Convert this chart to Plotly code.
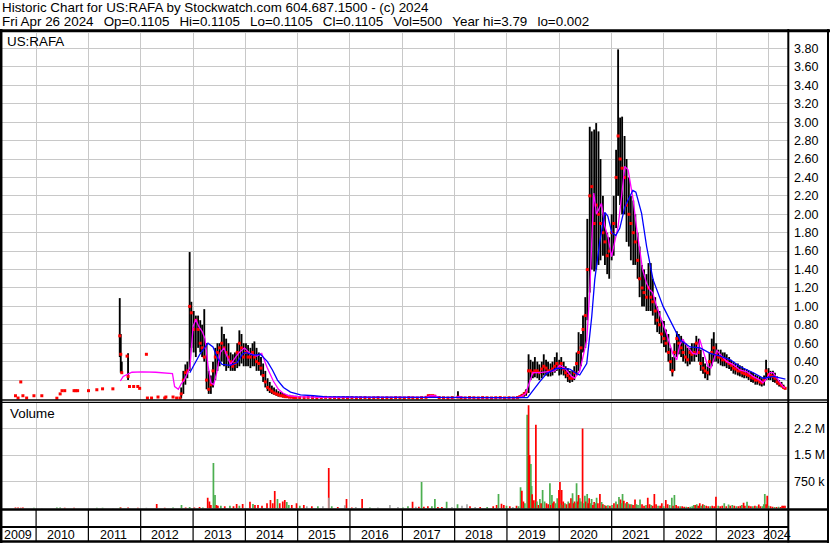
import plotly.graph_objects as go
import pandas as pd

# ---------------- price bars (date, high, low, close) ----------------
bar_dates = [
 "2009-08-10","2009-08-28","2009-09-16","2009-10-01","2009-10-27","2009-12-17",
 "2010-02-10","2010-05-26","2010-06-18","2010-07-01","2010-07-20","2010-09-23","2010-10-05","2010-10-18",
 "2011-01-02","2011-03-01","2011-04-10","2011-06-21","2011-08-08","2011-08-15","2011-08-22","2011-09-28",
 "2011-10-05","2011-10-15","2011-11-13","2011-12-12","2011-12-25",
 "2012-02-10","2012-02-17","2012-03-17","2012-05-01","2012-06-17","2012-06-25","2012-08-14","2012-09-08","2012-10-01",
 "2012-10-10","2012-10-25","2012-11-08","2012-11-22","2012-12-08","2012-12-20",
 "2013-01-05","2013-01-20","2013-02-05","2013-02-20","2013-03-05","2013-03-20","2013-04-05","2013-04-20",
 "2013-05-05","2013-05-20","2013-06-05","2013-06-20","2013-07-05","2013-07-20","2013-08-05","2013-08-20",
 "2013-09-05","2013-09-20","2013-10-05","2013-10-20","2013-11-05","2013-11-20","2013-12-05","2013-12-20",
 "2014-01-05","2014-01-20","2014-02-05","2014-02-20","2014-03-05","2014-03-20","2014-04-05","2014-04-20",
 "2014-05-05","2014-05-20","2014-06-05","2014-06-20","2014-07-05","2014-07-20","2014-08-05","2014-08-20",
 "2014-09-05","2014-09-20","2014-10-05","2014-10-20","2014-11-05","2014-11-20","2014-12-05","2014-12-20",
 "2015-01-15","2015-02-15","2015-03-15","2015-04-15","2015-05-15","2015-06-15","2015-07-15","2015-08-15",
 "2015-09-15","2015-10-15","2015-11-15","2015-12-15",
 "2016-01-15","2016-02-15","2016-03-15","2016-04-15","2016-05-15","2016-06-15","2016-07-15","2016-08-15",
 "2016-09-15","2016-10-15","2016-11-15","2016-12-15",
 "2017-01-15","2017-02-15","2017-03-15","2017-04-15","2017-05-15","2017-06-15","2017-07-01","2017-07-15",
 "2017-08-01","2017-08-15","2017-09-15","2017-10-15","2017-11-15","2017-12-15",
 "2018-01-24","2018-02-15","2018-03-15","2018-04-15","2018-05-15","2018-06-15","2018-07-15","2018-08-15",
 "2018-09-15","2018-10-15","2018-11-15","2018-12-15",
 "2019-01-15","2019-02-15","2019-03-15","2019-04-01","2019-04-15","2019-05-01","2019-05-15","2019-06-01",
 "2019-06-15","2019-07-01","2019-07-15","2019-08-01","2019-08-15","2019-09-01","2019-09-15","2019-10-01",
 "2019-10-15","2019-11-01","2019-11-15","2019-12-01","2019-12-15",
 "2020-01-01","2020-01-15","2020-02-01","2020-02-15","2020-03-01","2020-03-15","2020-04-01","2020-04-15",
 "2020-05-01","2020-05-15","2020-06-01","2020-06-15","2020-07-01","2020-07-15","2020-08-01","2020-08-15",
 "2020-09-01","2020-09-15","2020-10-01","2020-10-15","2020-11-01","2020-11-15","2020-12-01","2020-12-15",
 "2021-01-01","2021-01-15","2021-02-01","2021-02-15","2021-03-01","2021-03-15","2021-04-01","2021-04-15",
 "2021-05-01","2021-05-15","2021-06-01","2021-06-15","2021-07-01","2021-07-15","2021-08-01","2021-08-15",
 "2021-09-01","2021-09-15","2021-10-01","2021-10-15","2021-11-01","2021-11-15","2021-12-01","2021-12-15",
 "2022-01-01","2022-01-15","2022-02-01","2022-02-15","2022-03-01","2022-03-15","2022-04-01","2022-04-15",
 "2022-05-01","2022-05-15","2022-06-01","2022-06-15","2022-07-01","2022-07-15","2022-08-01","2022-08-15",
 "2022-09-01","2022-09-15","2022-10-01","2022-10-15","2022-11-01","2022-11-15","2022-12-01","2022-12-15",
 "2023-01-01","2023-01-15","2023-02-01","2023-02-15","2023-03-01","2023-03-15","2023-04-01","2023-04-15",
 "2023-05-01","2023-05-15","2023-06-01","2023-06-15","2023-07-01","2023-07-15","2023-08-01","2023-08-15",
 "2023-09-01","2023-09-15","2023-10-01","2023-10-15","2023-11-01","2023-11-15","2023-12-01","2023-12-15",
 "2024-01-01","2024-01-15","2024-02-01","2024-02-15","2024-03-01","2024-03-15","2024-04-01","2024-04-15",
 "2024-04-26",
]
bar_high = [
 0.03,0.005,0.18,0.03,0.005,0.03,
 0.03,0.003,0.05,0.085,0.085,0.085,0.085,0.085,
 0.085,0.095,0.105,0.105,1.09,0.70,0.40,0.46,
 0.49,0.13,0.13,0.13,0.11,
 0.48,0.005,0.005,0.016,0.005,0.016,0.016,0.005,0.005,
 0.12,0.30,0.37,0.40,1.59,1.05,
 0.95,0.90,0.90,0.85,0.80,0.97,0.60,0.30,
 0.25,0.40,0.55,0.60,0.60,0.78,0.70,0.65,
 0.60,0.50,0.48,0.50,0.60,0.74,0.70,0.60,
 0.60,0.58,0.55,0.60,0.62,0.55,0.50,0.45,
 0.38,0.30,0.22,0.18,0.14,0.12,0.10,0.08,
 0.07,0.06,0.05,0.04,0.04,0.03,0.03,0.03,
 0.025,0.02,0.02,0.02,0.02,0.02,0.02,0.02,
 0.02,0.02,0.02,0.02,
 0.02,0.02,0.02,0.015,0.015,0.015,0.015,0.015,
 0.015,0.015,0.015,0.015,
 0.015,0.015,0.015,0.015,0.015,0.02,0.04,0.04,
 0.04,0.035,0.02,0.015,0.015,0.015,
 0.08,0.02,0.015,0.015,0.015,0.015,0.015,0.015,
 0.015,0.015,0.015,0.015,
 0.015,0.015,0.02,0.03,0.05,0.07,0.10,0.48,
 0.42,0.40,0.45,0.40,0.37,0.40,0.48,0.42,
 0.40,0.38,0.40,0.45,0.50,
 0.42,0.45,0.40,0.35,0.33,0.30,0.30,0.35,
 0.50,0.72,0.70,0.90,1.10,1.95,2.95,2.90,
 2.92,2.99,2.90,2.60,2.20,2.00,1.80,1.75,
 2.00,2.20,2.70,3.79,3.05,3.06,2.85,2.60,
 2.40,2.20,2.15,2.00,1.80,1.65,1.45,1.40,
 1.35,1.47,1.47,1.30,1.10,1.00,0.95,0.85,
 0.84,0.75,0.70,0.55,0.45,0.60,0.73,0.70,
 0.68,0.64,0.60,0.55,0.55,0.60,0.60,0.68,
 0.65,0.53,0.45,0.38,0.35,0.50,0.65,0.72,
 0.60,0.53,0.53,0.50,0.50,0.48,0.45,0.42,
 0.40,0.38,0.38,0.36,0.35,0.33,0.32,0.30,
 0.29,0.28,0.26,0.25,0.24,0.22,0.25,0.42,
 0.33,0.30,0.30,0.28,0.24,0.20,0.18,0.15,
 0.12,
]
bar_low = [
 0.03,0.005,0.18,0.03,0.005,0.03,
 0.03,0.003,0.05,0.085,0.085,0.085,0.085,0.085,
 0.085,0.095,0.105,0.105,0.45,0.28,0.28,0.46,
 0.20,0.13,0.13,0.13,0.11,
 0.48,0.005,0.005,0.016,0.005,0.016,0.016,0.005,0.005,
 0.0,0.05,0.15,0.22,0.30,0.55,
 0.50,0.45,0.55,0.50,0.45,0.40,0.10,0.05,
 0.05,0.12,0.20,0.30,0.35,0.40,0.35,0.30,
 0.33,0.30,0.30,0.30,0.33,0.35,0.38,0.35,
 0.35,0.35,0.33,0.35,0.35,0.30,0.30,0.25,
 0.18,0.12,0.08,0.06,0.05,0.04,0.03,0.02,
 0.02,0.01,0.01,0.005,0.005,0.005,0.005,0.005,
 0.005,0.005,0.005,0.005,0.005,0.005,0.005,0.005,
 0.005,0.005,0.005,0.005,
 0.005,0.005,0.005,0.005,0.005,0.005,0.005,0.005,
 0.005,0.005,0.005,0.005,
 0.005,0.005,0.005,0.005,0.005,0.005,0.01,0.02,
 0.02,0.01,0.005,0.005,0.005,0.005,
 0.01,0.005,0.005,0.005,0.005,0.005,0.005,0.005,
 0.005,0.005,0.005,0.005,
 0.005,0.005,0.005,0.005,0.01,0.02,0.03,0.06,
 0.20,0.22,0.23,0.22,0.20,0.22,0.25,0.25,
 0.24,0.24,0.25,0.28,0.30,
 0.25,0.26,0.25,0.22,0.18,0.17,0.18,0.20,
 0.25,0.30,0.35,0.50,0.55,0.85,1.15,1.40,
 1.38,1.40,1.45,1.50,1.55,1.45,1.35,1.30,
 1.50,1.55,1.85,2.20,2.10,2.00,2.00,1.70,
 1.65,1.50,1.45,1.45,1.30,1.10,1.00,1.00,
 0.95,0.95,0.95,0.90,0.80,0.72,0.70,0.60,
 0.56,0.50,0.40,0.30,0.24,0.30,0.45,0.48,
 0.45,0.40,0.38,0.35,0.37,0.40,0.40,0.45,
 0.40,0.30,0.27,0.22,0.20,0.25,0.35,0.40,
 0.40,0.38,0.36,0.35,0.35,0.33,0.32,0.30,
 0.27,0.26,0.25,0.24,0.23,0.22,0.22,0.20,
 0.18,0.17,0.15,0.15,0.14,0.13,0.14,0.20,
 0.20,0.20,0.18,0.17,0.15,0.13,0.12,0.11,
 0.10,
]
bar_close = [
 0.03,0.005,0.18,0.03,0.005,0.03,
 0.03,0.003,0.05,0.085,0.085,0.085,0.085,0.085,
 0.085,0.095,0.105,0.105,0.68,0.48,0.28,0.46,
 0.24,0.13,0.13,0.13,0.11,
 0.48,0.005,0.005,0.016,0.005,0.016,0.016,0.005,0.005,
 0.05,0.20,0.28,0.30,1.00,0.93,
 0.75,0.85,0.75,0.60,0.55,0.45,0.20,0.10,
 0.15,0.30,0.45,0.50,0.55,0.60,0.55,0.50,
 0.45,0.40,0.35,0.38,0.50,0.60,0.55,0.45,
 0.50,0.45,0.45,0.50,0.45,0.40,0.38,0.33,
 0.25,0.18,0.12,0.10,0.08,0.06,0.05,0.04,
 0.03,0.03,0.02,0.02,0.015,0.015,0.01,0.01,
 0.01,0.008,0.012,0.01,0.006,0.01,0.012,0.008,
 0.01,0.006,0.01,0.008,
 0.01,0.006,0.008,0.01,0.006,0.008,0.01,0.006,
 0.008,0.006,0.01,0.008,
 0.006,0.01,0.008,0.006,0.01,0.012,0.03,0.03,
 0.03,0.025,0.01,0.008,0.006,0.01,
 0.015,0.008,0.006,0.01,0.008,0.006,0.01,0.008,
 0.006,0.008,0.01,0.006,
 0.008,0.006,0.01,0.02,0.03,0.05,0.07,0.30,
 0.30,0.28,0.30,0.30,0.28,0.32,0.35,0.33,
 0.30,0.30,0.32,0.35,0.38,
 0.35,0.38,0.32,0.28,0.25,0.22,0.22,0.28,
 0.38,0.50,0.55,0.75,0.90,1.40,2.20,2.30,
 1.90,2.10,2.00,1.90,1.80,1.70,1.55,1.60,
 1.80,1.90,2.40,2.85,2.60,2.50,2.40,2.10,
 2.00,1.90,1.80,1.70,1.50,1.30,1.20,1.15,
 1.10,1.20,1.10,1.05,0.95,0.85,0.80,0.70,
 0.65,0.60,0.50,0.40,0.30,0.50,0.65,0.60,
 0.55,0.50,0.45,0.42,0.50,0.48,0.50,0.60,
 0.50,0.38,0.33,0.30,0.28,0.40,0.50,0.55,
 0.48,0.45,0.45,0.42,0.42,0.40,0.38,0.36,
 0.33,0.32,0.30,0.30,0.28,0.27,0.26,0.25,
 0.23,0.22,0.20,0.20,0.18,0.17,0.20,0.30,
 0.26,0.25,0.24,0.22,0.18,0.16,0.14,0.12,
 0.1105,
]

# ---------------- moving averages ----------------
ma_fast_dates = [
 "2011-08-12","2011-09-01","2011-11-01","2012-01-15","2012-04-15","2012-08-10","2012-08-25","2012-09-20",
 "2012-10-10","2012-11-01","2012-12-10","2012-12-20","2013-01-01","2013-01-20","2013-02-10","2013-03-05",
 "2013-03-25","2013-04-15","2013-05-05","2013-05-25","2013-06-15","2013-07-10","2013-08-05","2013-08-25",
 "2013-09-20","2013-10-25","2013-11-20","2013-12-25","2014-02-01","2014-03-20","2014-04-25","2014-06-01",
 "2014-07-15","2014-08-20","2014-09-20","2014-11-01","2015-01-01","2015-06-01","2016-01-01","2017-01-01",
 "2017-06-15","2017-07-15","2017-08-15","2017-09-15","2018-01-01","2018-02-01","2018-03-01","2019-03-15",
 "2019-04-10","2019-05-10","2019-06-10","2019-07-01","2019-08-17","2019-11-30","2020-01-04","2020-02-08",
 "2020-03-28","2020-04-18","2020-05-23","2020-06-13","2020-07-11","2020-08-01","2020-08-13","2020-08-29",
 "2020-09-17","2020-10-22","2020-11-14","2020-12-07","2020-12-31","2021-01-23","2021-02-15","2021-03-11",
 "2021-04-03","2021-04-26","2021-05-31","2021-06-24","2021-07-15","2021-08-05","2021-09-02","2021-09-23",
 "2021-10-14","2021-11-11","2021-12-16","2022-01-20","2022-03-03","2022-03-31","2022-04-21","2022-05-12",
 "2022-06-16","2022-07-21","2022-08-18","2022-09-08","2022-09-29","2022-11-03","2022-11-24","2022-12-22",
 "2023-01-05","2023-02-09","2023-03-16","2023-04-27","2023-06-15","2023-08-03","2023-09-14","2023-11-02",
 "2023-11-23","2023-12-21","2024-01-11","2024-02-01","2024-03-07","2024-04-11","2024-04-25",
]
ma_fast = [
 0.19,0.24,0.285,0.29,0.285,0.27,0.13,0.10,
 0.16,0.20,0.34,0.60,0.78,0.86,0.78,0.73,
 0.65,0.36,0.17,0.15,0.28,0.50,0.55,0.46,
 0.37,0.45,0.50,0.55,0.49,0.46,0.49,0.34,
 0.19,0.10,0.06,0.03,0.02,0.012,0.01,0.01,
 0.012,0.03,0.03,0.012,0.01,0.02,0.01,0.01,
 0.02,0.05,0.20,0.28,0.28,0.30,0.36,0.33,
 0.24,0.22,0.30,0.45,0.63,1.16,1.70,2.23,
 2.00,2.12,1.87,1.75,1.54,1.72,1.87,2.19,
 2.52,2.48,2.16,1.85,1.60,1.40,1.25,1.18,
 1.15,1.00,0.85,0.70,0.49,0.42,0.58,0.64,
 0.56,0.49,0.48,0.64,0.53,0.35,0.33,0.45,
 0.52,0.46,0.40,0.37,0.31,0.29,0.24,0.20,
 0.17,0.22,0.28,0.28,0.20,0.13,0.115,
]
ma_slow_dates = [
 "2012-12-09","2013-01-13","2013-02-17","2013-04-15","2013-05-20","2013-06-24","2013-07-22","2013-09-17",
 "2013-11-05","2013-12-10","2013-12-31","2014-02-26","2014-04-16","2014-06-04","2014-07-09","2014-08-13",
 "2014-09-24","2014-11-12","2015-01-21","2015-04-23","2015-07-02","2016-04-10","2017-07-11","2018-02-05",
 "2019-05-25","2019-08-17","2019-10-05","2019-12-14","2020-03-14","2020-05-03","2020-05-23","2020-07-11",
 "2020-08-15","2020-09-05","2020-10-10","2020-11-14","2020-12-05","2021-01-02","2021-01-30","2021-02-27",
 "2021-04-03","2021-04-24","2021-05-29","2021-06-19","2021-07-29","2021-09-02","2021-10-17","2021-12-26",
 "2022-03-06","2022-04-24","2022-07-03","2022-09-11","2022-11-20","2023-01-29","2023-04-09","2023-06-18",
 "2023-09-17","2023-11-26","2024-02-04","2024-04-28",
]
ma_slow = [
 0.28,0.38,0.48,0.60,0.56,0.43,0.37,0.36,
 0.39,0.48,0.50,0.47,0.48,0.40,0.31,0.20,
 0.12,0.07,0.04,0.03,0.02,0.015,0.01,0.012,
 0.01,0.18,0.27,0.33,0.32,0.27,0.255,0.38,
 0.89,1.29,1.70,2.02,1.98,1.80,1.77,1.85,
 2.08,2.15,2.26,2.24,2.01,1.65,1.29,1.00,
 0.78,0.635,0.56,0.55,0.49,0.46,0.42,0.345,
 0.28,0.22,0.24,0.21,
]

# ---------------- volume (date, thousands of shares, direction) ----------------
vol_dates = [
 "2009-08-10","2009-08-28","2009-09-16","2009-10-01","2009-12-17","2010-02-10","2010-05-26","2010-06-18",
 "2010-07-20","2010-09-23","2011-01-02","2011-03-01","2011-04-10","2011-06-21","2011-08-10","2011-08-15",
 "2011-10-05","2011-10-15","2011-12-12","2012-02-10","2012-04-22","2012-06-17","2012-08-14","2012-10-12",
 "2012-11-10","2012-12-08","2013-01-10","2013-02-15","2013-03-10","2013-04-13","2013-04-25","2013-05-05",
 "2013-05-23","2013-06-03","2013-06-13","2013-06-23","2013-07-14","2013-08-10","2013-09-15","2013-10-10",
 "2013-11-01","2013-11-20","2013-12-13","2014-02-02","2014-02-23","2014-03-09","2014-03-30","2014-04-27",
 "2014-06-01","2014-06-25","2014-07-11","2014-07-25","2014-08-13","2014-08-29","2014-09-19","2014-10-03",
 "2014-10-17","2014-10-31","2014-11-21","2014-12-24","2015-01-16","2015-02-13","2015-03-06","2015-04-10",
 "2015-05-22","2015-06-26","2015-08-06","2015-08-08","2015-08-27","2015-10-08","2015-11-26","2015-12-08",
 "2016-01-14","2016-02-11","2016-03-26","2016-05-19","2016-07-14","2016-10-06","2016-12-01","2017-01-05",
 "2017-02-09","2017-03-13","2017-04-05","2017-04-26","2017-05-15","2017-05-31","2017-06-28","2017-07-26",
 "2017-08-16","2017-09-06","2017-10-04","2017-11-06","2017-12-13","2018-01-21","2018-02-21","2018-03-28",
 "2018-04-18","2018-05-24","2018-06-28","2018-08-16","2018-09-27","2018-10-21","2018-11-03","2018-11-24",
 "2018-12-10","2018-12-29","2019-01-21","2019-02-11","2019-03-09","2019-03-23","2019-04-06","2019-04-15",
 "2019-04-26","2019-05-06","2019-05-22","2019-06-01","2019-06-08","2019-06-17","2019-06-22","2019-06-26",
 "2019-07-08","2019-07-15","2019-07-22","2019-07-29","2019-08-09","2019-08-19","2019-08-28","2019-09-07",
 "2019-09-21","2019-10-04","2019-10-16","2019-10-28","2019-11-04","2019-11-11","2019-11-18","2019-11-25",
 "2019-12-06","2019-12-18","2019-12-30","2020-01-06","2020-01-13","2020-01-18","2020-01-24","2020-01-29",
 "2020-02-10","2020-02-21","2020-03-04","2020-03-12","2020-03-23","2020-04-03","2020-04-10","2020-04-17",
 "2020-04-24","2020-05-01","2020-05-08","2020-05-15","2020-05-21","2020-05-24","2020-05-31","2020-06-12",
 "2020-06-20","2020-06-28","2020-07-05","2020-07-14","2020-07-21","2020-07-28","2020-08-06","2020-08-14",
 "2020-08-23","2020-09-01","2020-09-10","2020-09-18","2020-09-27","2020-10-11","2020-10-23","2020-11-01",
 "2020-11-12","2020-11-22","2020-12-06","2020-12-20","2021-01-03","2021-01-17","2021-01-31","2021-02-11",
 "2021-02-21","2021-03-04","2021-03-11","2021-03-18","2021-03-27","2021-04-07","2021-04-18","2021-04-27",
 "2021-05-09","2021-05-20","2021-05-30","2021-06-13","2021-06-23","2021-07-04","2021-07-18","2021-08-01",
 "2021-08-15","2021-08-29","2021-09-10","2021-09-23","2021-10-03","2021-10-14","2021-10-26","2021-11-07",
 "2021-11-21","2021-12-05","2021-12-17","2021-12-30","2022-01-14","2022-01-27","2022-02-10","2022-02-25",
 "2022-03-06","2022-03-15","2022-03-27","2022-04-10","2022-04-24","2022-05-08","2022-05-22","2022-06-05",
 "2022-06-19","2022-07-03","2022-07-17","2022-07-28","2022-08-07","2022-08-18","2022-08-28","2022-09-08",
 "2022-09-18","2022-09-29","2022-10-09","2022-10-23","2022-11-06","2022-11-20","2022-12-04","2022-12-18",
 "2022-12-30","2023-01-15","2023-01-29","2023-02-12","2023-02-26","2023-03-12","2023-03-28","2023-04-09",
 "2023-04-23","2023-05-07","2023-05-21","2023-06-04","2023-06-18","2023-06-29","2023-07-11","2023-07-20",
 "2023-08-04","2023-08-17","2023-08-31","2023-09-14","2023-09-28","2023-10-12","2023-10-25","2023-11-06",
 "2023-11-20","2023-11-29","2023-12-06","2023-12-15","2023-12-23","2024-01-01","2024-01-15","2024-01-29",
 "2024-02-12","2024-02-26","2024-03-11","2024-03-25","2024-04-05","2024-04-15","2024-04-25",
]
vol_k = [
 30,25,20,30,20,15,25,25,
 20,20,15,20,20,15,30,25,
 25,15,20,20,125,20,30,100,
 30,40,30,40,30,300,200,100,
 1280,380,100,80,80,60,80,60,
 126,80,126,190,126,100,100,80,
 150,240,150,490,270,150,200,240,
 180,100,100,150,80,100,60,60,
 60,60,1140,300,60,40,90,270,
 30,40,270,30,30,100,40,30,
 60,190,50,50,745,50,60,60,
 270,40,40,190,40,120,80,120,
 60,40,40,40,60,100,410,130,
 100,80,60,40,80,60,595,500,
 200,150,2630,2900,1500,1250,630,400,
 230,150,2350,200,100,270,150,520,
 200,150,120,710,100,380,150,200,
 150,290,520,745,150,520,100,200,
 150,120,200,150,290,430,150,200,
 150,710,200,380,120,290,200,2250,
 150,360,200,410,150,290,150,270,
 100,180,150,300,150,410,180,120,
 100,80,90,80,100,150,200,120,
 320,250,150,410,220,150,180,140,
 120,120,100,250,120,100,250,120,
 80,100,300,120,100,80,410,120,
 80,80,150,60,240,120,100,300,
 80,380,100,60,60,60,50,50,
 40,50,60,100,100,120,80,150,
 80,120,100,80,60,60,80,60,
 330,80,60,80,150,60,110,80,
 100,80,60,60,80,100,160,80,
 190,80,60,60,80,60,110,60,
 60,120,410,120,360,80,60,50,
 40,40,50,40,80,80,80,
]
vol_dir = [
 "d","d","d","d","u","n","u","u",
 "d","d","n","u","u","n","u","d",
 "d","n","d","n","d","d","u","u",
 "d","u","d","d","u","d","d","d",
 "u","u","d","d","u","d","u","d",
 "d","u","d","d","u","d","d","d",
 "d","d","d","d","u","d","d","d",
 "u","u","d","d","u","d","n","d",
 "u","n","d","n","u","d","n","d",
 "d","n","d","u","n","n","n","u",
 "u","d","n","d","u","d","d","u",
 "u","d","d","u","n","u","n","n",
 "d","n","d","u","d","d","u","d",
 "d","u","d","n","d","u","u","d",
 "d","u","u","d","d","u","u","d",
 "d","u","d","u","d","u","d","u",
 "u","d","d","u","d","u","d","d",
 "u","u","d","d","u","d","u","d",
 "u","d","u","d","d","u","d","d",
 "u","u","d","d","u","u","u","d",
 "u","u","d","u","d","d","u","u",
 "d","d","u","u","d","d","u","d",
 "u","d","u","d","u","d","u","d",
 "u","d","u","u","d","u","d","u",
 "d","u","d","d","u","u","u","d",
 "d","u","d","d","u","d","d","d",
 "u","d","d","u","d","d","u","u",
 "d","u","d","d","u","d","d","u",
 "d","u","u","u","d","u","d","d",
 "u","d","u","d","d","u","d","d",
 "d","u","d","d","u","d","u","d",
 "u","d","u","d","d","u","d","d",
 "u","d","d","u","d","u","d","d",
 "u","u","u","d","d","u","d","d",
 "u","d","u","d","d","d","d",
]

# ---------------- axis ticks / labels ----------------
price_ticks = [0.20, 0.40, 0.60, 0.80, 1.00, 1.20, 1.40, 1.60, 1.80, 2.00,
               2.20, 2.40, 2.60, 2.80, 3.00, 3.20, 3.40, 3.60, 3.80]
vol_ticks = [750000, 1500000, 2250000]
vol_tick_text = ["750 k", "1.5 M", "2.2 M"]
years = list(range(2009, 2025))

title_line1 = "Historic Chart for US:RAFA by Stockwatch.com 604.687.1500 - (c) 2024"
title_line2_parts = ["Fri Apr 26 2024", "Op=0.1105", "Hi=0.1105", "Lo=0.1105", "Cl=0.1105",
                     "Vol=500", "Year hi=3.79", "lo=0.002"]

# ---------------- layout geometry (pixels) ----------------
W, H = 830, 543
L, R, T, B = 2, 788, 33, 509          # plot area in pixels
xmin, xmax = pd.Timestamp("2009-05-08"), pd.Timestamp("2024-05-16")
FONT = "Liberation Sans, Arial, sans-serif"
GRID = "#c8c8c8"

def px_x(x):
    return (x - L) / (R - L)

def px_y(y):
    return (B - y) / (B - T)

def date_x(d):
    d = pd.Timestamp(d)
    return (d - xmin) / (xmax - xmin)

DAY_MS = 86400000
colors = {"u": "#4caf50", "d": "#ff0000", "n": "#a8a8a8"}

fig = go.Figure()

fig.add_trace(go.Bar(
    x=bar_dates, y=[h - l for h, l in zip(bar_high, bar_low)], base=bar_low,
    width=13 * DAY_MS, marker=dict(color="black", line=dict(width=0)),
    xaxis="x", yaxis="y", hoverinfo="skip", showlegend=False))
fig.add_trace(go.Scatter(
    x=bar_dates, y=bar_close, mode="markers",
    marker=dict(symbol="square", size=3, color="#ff0000", line=dict(width=0)),
    xaxis="x", yaxis="y", hoverinfo="skip", showlegend=False))
fig.add_trace(go.Scatter(
    x=ma_fast_dates, y=ma_fast, mode="lines", line=dict(color="#ff00ff", width=1.3),
    xaxis="x", yaxis="y", hoverinfo="skip", showlegend=False))
fig.add_trace(go.Scatter(
    x=ma_slow_dates, y=ma_slow, mode="lines", line=dict(color="#0000ff", width=1.3),
    xaxis="x", yaxis="y", hoverinfo="skip", showlegend=False))
fig.add_trace(go.Bar(
    x=vol_dates, y=[v * 1000 for v in vol_k], width=12 * DAY_MS,
    marker=dict(color=[colors[c] for c in vol_dir], line=dict(width=0)),
    xaxis="x2", yaxis="y2", hoverinfo="skip", showlegend=False))

xcommon = dict(type="date", range=[xmin, xmax], showgrid=True, gridcolor=GRID, gridwidth=1,
               tick0="2010-01-01", dtick="M12", showticklabels=False, ticks="",
               zeroline=False, showline=False, fixedrange=True)

price_top = px_y(T)
price_bot = px_y(400)
vol_top = px_y(403)
vol_bot = px_y(508.5)

fig.update_layout(
    width=W, height=H, margin=dict(l=L, r=W - R, t=T, b=H - B, pad=0),
    paper_bgcolor="white", plot_bgcolor="white", barmode="overlay",
    font=dict(family=FONT, size=13, color="black"),
    xaxis=dict(domain=[0, 1], anchor="y", **xcommon),
    xaxis2=dict(domain=[0, 1], anchor="y2", matches="x", **xcommon),
    yaxis=dict(domain=[price_bot, price_top], anchor="x", side="right",
               range=[-0.0163, 3.968], tickvals=price_ticks,
               ticktext=["%.2f" % v for v in price_ticks],
               showgrid=True, gridcolor=GRID, gridwidth=1, zeroline=False, ticks="",
               showline=False, ticklabelstandoff=5, fixedrange=True,
               tickfont=dict(family=FONT, size=12.5, color="black")),
    yaxis2=dict(domain=[vol_bot, vol_top], anchor="x2", side="right",
                range=[0, (508.5 - 403) / 26.7 * 750000], tickvals=vol_ticks,
                ticktext=vol_tick_text, showgrid=True, gridcolor=GRID, gridwidth=1,
                zeroline=False, ticks="", showline=False, ticklabelstandoff=5, fixedrange=True,
                tickfont=dict(family=FONT, size=12.5, color="black")),
)

shapes = []
def hline(y, x0, x1, w):
    shapes.append(dict(type="line", xref="paper", yref="paper", x0=px_x(x0), x1=px_x(x1),
                       y0=px_y(y), y1=px_y(y), line=dict(color="black", width=w), layer="above"))
def vline(x, y0, y1, w):
    shapes.append(dict(type="line", xref="paper", yref="paper", x0=x, x1=x,
                       y0=px_y(y0), y1=px_y(y1), line=dict(color="black", width=w), layer="above"))

hline(30.7, 0, 830, 3)
hline(400, 0, 829, 1.3)
hline(402.3, 0, 829, 1.3)
hline(509.5, 0, 829, 2.5)
hline(527, 0, 789, 2)
hline(541.5, 0, 829, 2.5)
vline(px_x(1.2), 29, 543, 2.5)
vline(px_x(788.3), 29, 542.5, 2)
vline(px_x(828), 29, 543, 2)
for yr in years[1:]:
    vline(date_x(f"{yr}-01-01"), 509.5, 541.5, 1.2)

annotations = []
for yr in years:
    s = max(pd.Timestamp(f"{yr}-01-01"), xmin)
    e = min(pd.Timestamp(f"{yr + 1}-01-01"), xmax)
    cx = (date_x(s) + date_x(e)) / 2 - 1.5 / (R - L)
    annotations.append(dict(text=str(yr), x=cx, y=px_y(535), xref="paper", yref="paper",
                            xanchor="center", yanchor="middle", showarrow=False,
                            font=dict(family=FONT, size=12.5, color="black")))

SEP = "\u00a0\u00a0\u2009"
annotations.append(dict(text=title_line1, x=px_x(0), y=px_y(8), xref="paper", yref="paper",
                        xanchor="left", yanchor="middle", showarrow=False,
                        font=dict(family=FONT, size=13.4, color="black")))
annotations.append(dict(text=SEP.join(title_line2_parts), x=px_x(0), y=px_y(21.5),
                        xref="paper", yref="paper", xanchor="left", yanchor="middle",
                        showarrow=False, font=dict(family=FONT, size=13.4, color="black")))
annotations.append(dict(text="US:RAFA", x=px_x(5), y=px_y(41.5), xref="paper", yref="paper",
                        xanchor="left", yanchor="middle", showarrow=False,
                        font=dict(family=FONT, size=13.4, color="black")))
annotations.append(dict(text="Volume", x=px_x(8), y=px_y(413.5), xref="paper", yref="paper",
                        xanchor="left", yanchor="middle", showarrow=False,
                        font=dict(family=FONT, size=13.4, color="black")))

fig.update_layout(shapes=shapes, annotations=annotations)
fig.write_html("out.html", config={"displayModeBar": False, "staticPlot": True},
               post_script="document.body.style.margin='0px';")
